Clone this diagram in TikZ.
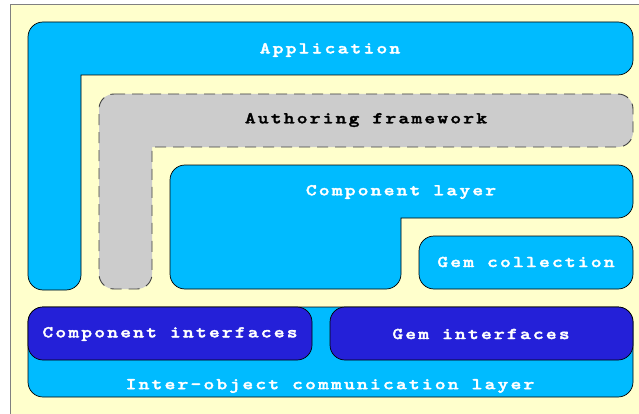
\documentclass[tikz,border=0pt]{standalone}
\usepackage{fontspec}
\newfontfamily\lblfont{lmmonolt10-bold}[Extension=.otf, LetterSpace=13, FakeStretch=1.25, FakeBold=2]
\definecolor{bgyellow}{HTML}{FFFFCC}
\definecolor{lightblue}{HTML}{00BBFF}
\definecolor{darkblue}{HTML}{2420D8}
\definecolor{fwgray}{HTML}{CCCCCC}
\definecolor{framegray}{HTML}{808080}
\tikzset{
  layer/.style={draw=black, line width=0.7pt, fill=lightblue},
  iface/.style={draw=black, line width=0.7pt, fill=darkblue, rounded corners=15pt},
  framework/.style={draw=black!75, line width=0.9pt, dash pattern=on 11pt off 7pt, fill=fwgray},
  lbl/.style={font=\lblfont\fontsize{16.5pt}{18pt}\selectfont, text=white, inner sep=0pt, anchor=center},
  lbldark/.style={lbl, text=black}
}
\begin{document}
\begin{tikzpicture}[x=1pt,y=1pt]
\useasboundingbox (0,0) rectangle (639,413);
\clip (0,0) rectangle (639,413);
\fill[white] (0,0) rectangle (639,413);
\draw[framegray, fill=bgyellow, line width=1pt] (10,-5) rectangle (650,408);
% Application
\draw[layer] (43,391) -- (618,391) arc[start angle=90,end angle=0,radius=15]
  -- (633,353) arc[start angle=0,end angle=-90,radius=15]
  -- (81,338) -- (81,138) arc[start angle=0,end angle=-90,radius=15]
  -- (43,123) arc[start angle=270,end angle=180,radius=15]
  -- (28,376) arc[start angle=180,end angle=90,radius=15] -- cycle;
% Authoring framework
\draw[framework] (114,319) -- (618,319) arc[start angle=90,end angle=0,radius=15]
  -- (633,281) arc[start angle=0,end angle=-90,radius=15]
  -- (152,266) -- (152,139) arc[start angle=0,end angle=-90,radius=15]
  -- (114,124) arc[start angle=270,end angle=180,radius=15]
  -- (99,304) arc[start angle=180,end angle=90,radius=15] -- cycle;
% Component layer
\draw[layer] (185,248) -- (618,248) arc[start angle=90,end angle=0,radius=15]
  -- (633,210) arc[start angle=0,end angle=-90,radius=15]
  -- (401,195) -- (401,139) arc[start angle=0,end angle=-90,radius=15]
  -- (185,124) arc[start angle=270,end angle=180,radius=15]
  -- (170,233) arc[start angle=180,end angle=90,radius=15] -- cycle;
% Gem collection
\draw[layer, rounded corners=15pt] (419,124) rectangle (633,177);
% Inter-object communication layer
\draw[layer, rounded corners=15pt] (28,16) rectangle (633,106);
% Interfaces
\draw[iface] (28,53) rectangle (312,106);
\draw[iface] (330,53) rectangle (633,106);
% Labels
\node[lbl] (tapp) at (330,363) {Application};
\node[lbldark] (tauth) at (366,293) {Authoring framework};
\node[lbl] (tcomp) at (401,221) {Component layer};
\node[lbl] (tgem) at (526,151) {Gem collection};
\node[lbl] (tci) at (170,79) {Component interfaces};
\node[lbl] (tgi) at (481,79) {Gem interfaces};
\node[lbl] (tinter) at (330,27) {Inter-object communication layer};
\end{tikzpicture}
\end{document}
